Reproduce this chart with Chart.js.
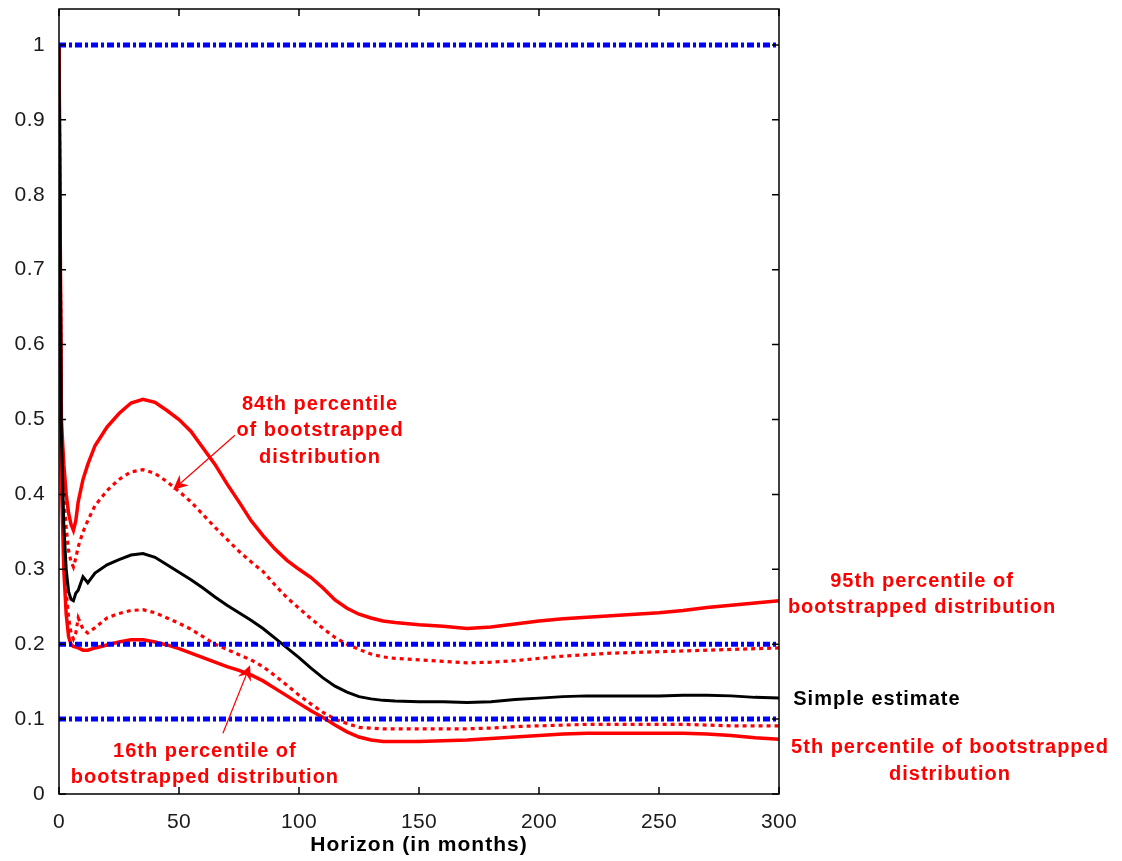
<!DOCTYPE html>
<html><head><meta charset="utf-8">
<script src="https://cdn.jsdelivr.net/npm/chart.js@4/dist/chart.umd.min.js"></script>
<style>html,body{margin:0;padding:0;background:#fff;}#wrap{width:1122px;height:861px;}</style>
</head><body><div id="wrap"><canvas id="c" width="1122" height="861"></canvas></div>
<script>
// ---- data ----
const months = [0,1,2,3,4,5,6,7,8,10,12,15,20,25,30,35,40,45,50,55,60,65,70,75,80,85,90,95,100,105,110,115,120,125,130,135,140,150,160,170,180,190,200,210,220,230,240,250,260,270,280,290,300];
const p95 = [1.0,0.50,0.44,0.40,0.375,0.36,0.352,0.365,0.39,
  0.42,0.44,0.465,
  0.49,0.508,0.522,0.527,0.523,0.512,0.5,0.484,0.462,0.44,0.414,0.39,0.365,0.345,0.327,0.312,0.3,0.289,0.275,0.259,0.248,0.24,0.235,0.231,0.229,
  0.226,0.224,0.221,0.223,0.227,0.231,0.234,0.236,0.238,0.24,0.242,0.245,0.249,0.252,0.255,0.258];
const p84 = [1.0,0.48,0.40,0.355,0.325,0.31,0.303,0.315,0.33,
  0.35,0.365,0.385,
  0.405,0.42,0.43,0.433,0.428,0.417,0.404,0.39,0.373,0.356,0.34,0.324,0.31,0.297,0.279,0.262,0.248,0.234,0.221,0.209,0.2,0.193,0.187,0.183,0.181,
  0.179,0.177,0.175,0.176,0.178,0.181,0.184,0.186,0.188,0.189,0.19,0.191,0.192,0.193,0.194,0.195];
const simpleEstimate = [1.0,0.48,0.36,0.30,0.27,0.26,0.258,0.268,0.272,
  0.29,0.282,0.295,
  0.306,0.313,0.319,0.321,0.316,0.306,0.296,0.286,0.275,0.263,0.252,0.242,0.232,0.221,0.208,0.195,0.182,0.168,0.155,0.144,0.136,0.13,0.127,0.125,0.124,
  0.123,0.123,0.122,0.123,0.126,0.128,0.13,0.131,0.131,0.131,0.131,0.132,0.132,0.131,0.129,0.128];
const p16 = [1.0,0.45,0.33,0.27,0.235,0.215,0.207,0.215,0.235,
  0.22,0.215,0.222,
  0.235,0.241,0.245,0.246,0.242,0.235,0.228,0.22,0.21,0.2,0.193,0.186,0.179,0.17,0.158,0.145,0.132,0.12,0.109,0.1,0.094,0.089,0.088,0.087,0.087,
  0.087,0.087,0.087,0.088,0.09,0.091,0.092,0.093,0.093,0.093,0.093,0.093,0.092,0.091,0.091,0.091];
const p5 = [1.0,0.42,0.30,0.24,0.21,0.2,0.197,0.196,0.195,
  0.192,0.192,0.195,
  0.199,0.203,0.206,0.206,0.203,0.199,0.194,0.188,0.182,0.176,0.17,0.165,0.159,0.151,0.141,0.131,0.121,0.111,0.102,0.092,0.083,0.076,0.072,0.07,0.07,
  0.07,0.071,0.072,0.074,0.076,0.078,0.08,0.081,0.081,0.081,0.081,0.081,0.08,0.078,0.075,0.073];
const refLevels = [1, 0.2, 0.1];
const refRange = [0, 300];
const xTicks = [0,50,100,150,200,250,300];
const yTicks = [0,0.1,0.2,0.3,0.4,0.5,0.6,0.7,0.8,0.9,1];
const yTickLabels = ['0','0.1','0.2','0.3','0.4','0.5','0.6','0.7','0.8','0.9','1'];
const xTitle = 'Horizon (in months)';
const notes = [
  {lines:['84th percentile','of bootstrapped','distribution'], x:108.75, y:0.5127, color:'#ff0000'},
  {lines:['16th percentile of','bootstrapped distribution'], x:60.8, y:0.0494, color:'#ff0000'},
  {lines:['95th percentile of','bootstrapped distribution'], x:359.6, y:0.2764, color:'#ff0000'},
  {lines:['Simple estimate'], x:340.8, y:0.119, color:'#000000'},
  {lines:['5th percentile of bootstrapped','distribution'], x:371.25, y:0.0547, color:'#ff0000'}
];
const arrows = [
  {from:[73.3,0.479], to:[47.5,0.406]},
  {from:[68.3,0.081], to:[79.6,0.172]}
];

// ---- chart ----
const pts = arr => months.map((m,i)=>({x:m, y:arr[i]}));
const datasets = [];
refLevels.forEach(v => datasets.push({data: refRange.map(x=>({x, y:v})), borderColor:'#0000ff', borderWidth:5, borderDash:[7,3,3,3]}));
datasets.push({data: pts(simpleEstimate), borderColor:'#000000', borderWidth:3});
datasets.push({data: pts(p84), borderColor:'#ff0000', borderWidth:3.2, borderDash:[4,4]});
datasets.push({data: pts(p16), borderColor:'#ff0000', borderWidth:3.2, borderDash:[4,4]});
datasets.push({data: pts(p95), borderColor:'#ff0000', borderWidth:3.5});
datasets.push({data: pts(p5), borderColor:'#ff0000', borderWidth:3.5});

const tickFont = {family:'"Liberation Sans", Arial, sans-serif', size:21};

const framePlugin = {
  id:'frame',
  beforeDraw(chart){ chart.ctx.letterSpacing = '1px'; },
  afterDatasetsDraw(chart){ chart.ctx.letterSpacing = '0.4px'; },
  afterDraw(chart){
    const {ctx, chartArea:a, scales:{x, y}} = chart;
    ctx.save();
    ctx.strokeStyle = '#000'; ctx.lineWidth = 1.5;
    ctx.strokeRect(a.left, a.top, a.right-a.left, a.bottom-a.top);
    const tl = 7;
    ctx.beginPath();
    x.ticks.forEach(t=>{ const p=x.getPixelForValue(t.value); ctx.moveTo(p,a.bottom); ctx.lineTo(p,a.bottom-tl); ctx.moveTo(p,a.top); ctx.lineTo(p,a.top+tl); });
    y.ticks.forEach(t=>{ const p=y.getPixelForValue(t.value); ctx.moveTo(a.left,p); ctx.lineTo(a.left+tl,p); ctx.moveTo(a.right,p); ctx.lineTo(a.right-tl,p); });
    ctx.stroke();
    // arrows
    ctx.strokeStyle = '#ff0000'; ctx.fillStyle = '#ff0000'; ctx.lineWidth = 1.2;
    arrows.forEach(ar=>{
      const x0=x.getPixelForValue(ar.from[0]), y0=y.getPixelForValue(ar.from[1]);
      const x1=x.getPixelForValue(ar.to[0]), y1=y.getPixelForValue(ar.to[1]);
      const ang=Math.atan2(y1-y0, x1-x0);
      const L=15, W=7, inset=10;
      const bx=x1-L*Math.cos(ang), by=y1-L*Math.sin(ang);
      const ix=x1-inset*Math.cos(ang), iy=y1-inset*Math.sin(ang);
      ctx.beginPath(); ctx.moveTo(x0,y0); ctx.lineTo(ix,iy); ctx.stroke();
      ctx.beginPath();
      ctx.moveTo(x1,y1);
      ctx.lineTo(bx - W*Math.sin(ang), by + W*Math.cos(ang));
      ctx.lineTo(ix,iy);
      ctx.lineTo(bx + W*Math.sin(ang), by - W*Math.cos(ang));
      ctx.closePath(); ctx.fill();
    });
    // text notes
    ctx.font = 'bold 20px "Liberation Sans", Arial, sans-serif';
    ctx.letterSpacing = '1px';
    ctx.textAlign = 'center'; ctx.textBaseline = 'alphabetic';
    notes.forEach(n=>{
      const px=x.getPixelForValue(n.x), py=y.getPixelForValue(n.y);
      ctx.fillStyle = n.color;
      n.lines.forEach((s,i)=>ctx.fillText(s, px, py + i*26.5));
    });
    ctx.restore();
    ctx.letterSpacing = '0px';
  }
};

new Chart(document.getElementById('c'), {
  type:'line',
  data:{datasets},
  options:{
    responsive:false, animation:false, devicePixelRatio:1,
    layout:{padding:{top:9, right:343, bottom:0, left:0}},
    elements:{point:{radius:0}, line:{tension:0, borderCapStyle:'butt'}},
    plugins:{legend:{display:false}, tooltip:{enabled:false}},
    scales:{
      x:{type:'linear', min:0, max:300,
        grid:{display:false}, border:{display:false},
        ticks:{font:tickFont, color:'#1a1a1a', padding:8, maxRotation:0, autoSkip:false, z:1},
        afterBuildTicks: s => { s.ticks = xTicks.map(v=>({value:v})); },
        title:{display:true, text:xTitle, color:'#000', font:{family:'"Liberation Sans", Arial, sans-serif', size:21, weight:'bold'}, padding:{top:0, bottom:3}},
        afterFit: s => { s.height = 67; s.paddingLeft = 0; s.paddingRight = 0; }
      },
      y:{type:'linear', min:0, max:1.048,
        grid:{display:false}, border:{display:false},
        ticks:{font:tickFont, color:'#1a1a1a', padding:6, z:1, callback:(v,i)=>yTickLabels[i]},
        afterBuildTicks: s => { s.ticks = yTicks.map(v=>({value:v})); },
        afterFit: s => { s.width = 59; s.paddingTop = 0; s.paddingBottom = 0; }
      }
    }
  },
  plugins:[framePlugin]
});
</script></body></html>
